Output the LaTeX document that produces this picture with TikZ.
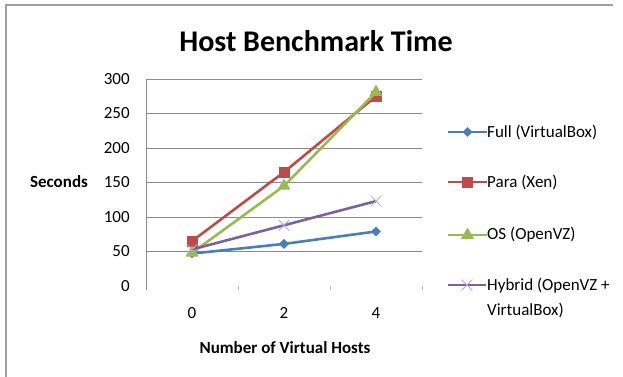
\documentclass[tikz,border=0pt]{standalone}
\usepackage{fontspec}
\setmainfont{Carlito}
\usetikzlibrary{calc,shapes.geometric,shapes.misc}
\definecolor{fullblue}{HTML}{4A7EBB}
\definecolor{parared}{HTML}{BE4B48}
\definecolor{osgreen}{HTML}{98B954}
\definecolor{hybpurple}{HTML}{7D60A0}
\definecolor{gridgray}{HTML}{8C8C8C}
\definecolor{framegray}{HTML}{A0A0A0}
\tikzset{
	lbl/.style={font=\fontsize{17}{20}\selectfont, inner sep=0pt},
	axttl/.style={font=\bfseries\fontsize{17}{20}\selectfont, inner sep=0pt},
	serline/.style={line width=2.6pt, line join=round},
	mkdia/.style={diamond, fill=fullblue, inner sep=0pt, minimum size=10pt},
	mksq/.style={rectangle, fill=parared, inner sep=0pt, minimum size=11pt},
	mktri/.style={regular polygon, regular polygon sides=3, fill=osgreen, inner sep=0pt, minimum size=15pt},
	mkx/.style={cross out, draw=hybpurple!55, line width=0.8pt, inner sep=0pt, minimum size=10pt}
}

\begin{document}
\begin{tikzpicture}[x=1pt, y=-1pt]
		\useasboundingbox (0,0) rectangle (623,377);
		% frame
		\draw[framegray, line width=1.5pt] (6,377) -- (6,5) -- (613,5);
		\node[font=\bfseries\fontsize{30}{36}\selectfont, inner sep=0pt] (title) at (316,41) {Host Benchmark Time};
		\node[axttl] (ylab) at (59,182) {Seconds};
		\node[axttl] (xlab) at (285,348) {Number of Virtual Hosts};
		\begin{scope}[shift={(146,286)}, x=46pt, y=0.69pt]
			\foreach \v in {50,100,...,300}
				\draw[gridgray, line width=0.8pt] (0,\v) -- (6,\v);
			\draw[gridgray, line width=0.8pt] (0,-6) -- (0,300);
			\foreach \t in {2,4,6}
				\draw[gridgray!60, line width=0.8pt] (\t,0) -- (\t,-6);
			\foreach \v in {0,50,...,300}
				\node[lbl, anchor=east] (y\v) at (-0.35,\v) {\v};
			\node[lbl] (x0) at (1,-39) {0};
			\node[lbl] (x2) at (3,-39) {2};
			\node[lbl] (x4) at (5,-39) {4};
			% data
			\coordinate (f0) at (1,47);
			\coordinate (f2) at (3,61);
			\coordinate (f4) at (5,79);
			\coordinate (p0) at (1,65);
			\coordinate (p2) at (3,165);
			\coordinate (p4) at (5,275);
			\coordinate (o0) at (1,48);
			\coordinate (o2) at (3,145);
			\coordinate (o4) at (5,281);
			\coordinate (h0) at (1,53);
			\coordinate (h2) at (3,88);
			\coordinate (h4) at (5,123);
			\draw[serline, fullblue] (f0) -- (f2) -- (f4);
			\node[mkdia] (f0m) at (f0) {};
			\node[mkdia] (f2m) at (f2) {};
			\node[mkdia] (f4m) at (f4) {};
			\draw[serline, parared] (p0) -- (p2) -- (p4);
			\node[mksq] (p0m) at (p0) {};
			\node[mksq] (p2m) at (p2) {};
			\node[mksq] (p4m) at (p4) {};
			\draw[serline, osgreen] (o0) -- (o2) -- (o4);
			\node[mktri] (o0m) at (o0) {};
			\node[mktri] (o2m) at (o2) {};
			\node[mktri] (o4m) at (o4) {};
			\draw[serline, hybpurple] (h0) -- (h2) -- (h4);
			\node[mkx] (h0m) at (h0) {};
			\node[mkx] (h2m) at (h2) {};
			\node[mkx] (h4m) at (h4) {};
		\end{scope}
		% legend
		\node[lbl, anchor=west] (lgfull) at (487,132) {Full (VirtualBox)};
		\node[lbl, anchor=west] (lgpara) at (487,182) {Para (Xen)};
		\node[lbl, anchor=west] (lgos) at (487,235) {OS (OpenVZ)};
		\node[lbl, anchor=north west, align=left, font=\fontsize{17}{25}\selectfont] (lghyb) at (487,278) {Hybrid (OpenVZ +\\VirtualBox)};
		\coordinate (lgfull0) at (448,132);
		\coordinate (lgpara0) at (448,182);
		\coordinate (lgos0) at (448,235);
		\coordinate (lghyb0) at (448,285);
		\coordinate (lghyb1) at (486,285);
		\draw[serline, fullblue] (lgfull0) -- (lgfull.west);
		\node[mkdia] (lgfullm) at ($(lgfull0)!0.5!(lgfull.west)$) {};
		\draw[serline, parared] (lgpara0) -- (lgpara.west);
		\node[mksq] (lgparam) at ($(lgpara0)!0.5!(lgpara.west)$) {};
		\draw[serline, osgreen] (lgos0) -- (lgos.west);
		\node[mktri] (lgosm) at ($(lgos0)!0.5!(lgos.west)$) {};
		\draw[serline, hybpurple] (lghyb0) -- (lghyb1);
		\node[mkx] (lghybm) at ($(lghyb0)!0.5!(lghyb1)$) {};
\end{tikzpicture}
\end{document}
